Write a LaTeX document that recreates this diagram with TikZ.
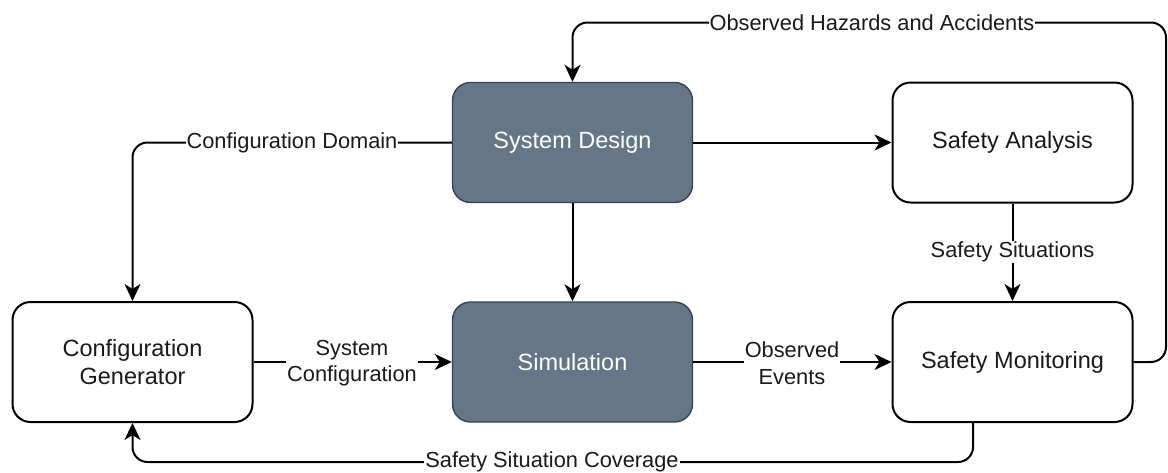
\documentclass[tikz,border=0pt]{standalone}
\usepackage{fontspec}
\setmainfont{Liberation Sans}
\usetikzlibrary{arrows.meta}
\definecolor{slatefill}{HTML}{647687}
\definecolor{slatedraw}{HTML}{314354}
\definecolor{txt}{HTML}{1A1A1A}
\begin{document}
\begin{tikzpicture}[x=1pt,y=-1pt,
  box/.style={draw=black,line width=2pt,fill=white,rounded corners=18pt,
    minimum width=240pt,minimum height=120pt,align=center,text=txt,
    font=\fontsize{23.5}{28}\selectfont},
  darkbox/.style={box,draw=slatedraw,line width=1.4pt,fill=slatefill,text=white},
  conn/.style={line width=2pt,draw=black,rounded corners=15pt,
    -{Stealth[length=17pt,width=16pt,inset=5pt]}},
  lbl/.style={fill=white,inner sep=1pt,align=center,text=txt,
    font=\fontsize{21.8}{26.5}\selectfont}]
\useasboundingbox (0,0) rectangle (1168,472);
\node[darkbox] (sd) at (572.5,142.5) {System Design};
\node[box] (sa) at (1012.5,142.5) {Safety Analysis};
\node[box] (cg) at (132.5,362) {Configuration\\Generator};
\node[darkbox] (sim) at (572.5,362) {Simulation};
\node[box] (sm) at (1012.5,362) {Safety Monitoring};
\coordinate (hz1) at (1166,362);
\coordinate (hz2) at (1166,22.5);
\coordinate (hz3) at (572.5,22.5);
\coordinate (cd1) at (132.5,142.5);
\coordinate (cv0) at (973,422);
\coordinate (cv1) at (973,462);
\coordinate (cv2) at (132.5,462);
\draw[conn] (sm.east) -- (hz1) -- (hz2) -- (hz3) -- (sd.north);
\draw[conn] (sd.west) -- (cd1) -- (cg.north);
\draw[conn] (sd.east) -- (sa.west);
\draw[conn] (sd.south) -- (sim.north);
\draw[conn] (sa.south) -- (sm.north);
\draw[conn] (cg.east) -- (sim.west);
\draw[conn] (sim.east) -- (sm.west);
\draw[conn] (cv0) -- (cv1) -- (cv2) -- (cg.south);
\node[lbl] (lhz) at (872,22.5) {Observed Hazards and Accidents};
\node[lbl] (lcd) at (292,142.5) {Configuration Domain};
\node[lbl] (lss) at (1012.5,252) {Safety Situations};
\node[lbl] (lsc) at (352,363) {System\\Configuration};
\node[lbl] (loe) at (792,363) {Observed\\Events};
\node[lbl] (lcv) at (552,462) {Safety Situation Coverage};
\end{tikzpicture}
\end{document}
